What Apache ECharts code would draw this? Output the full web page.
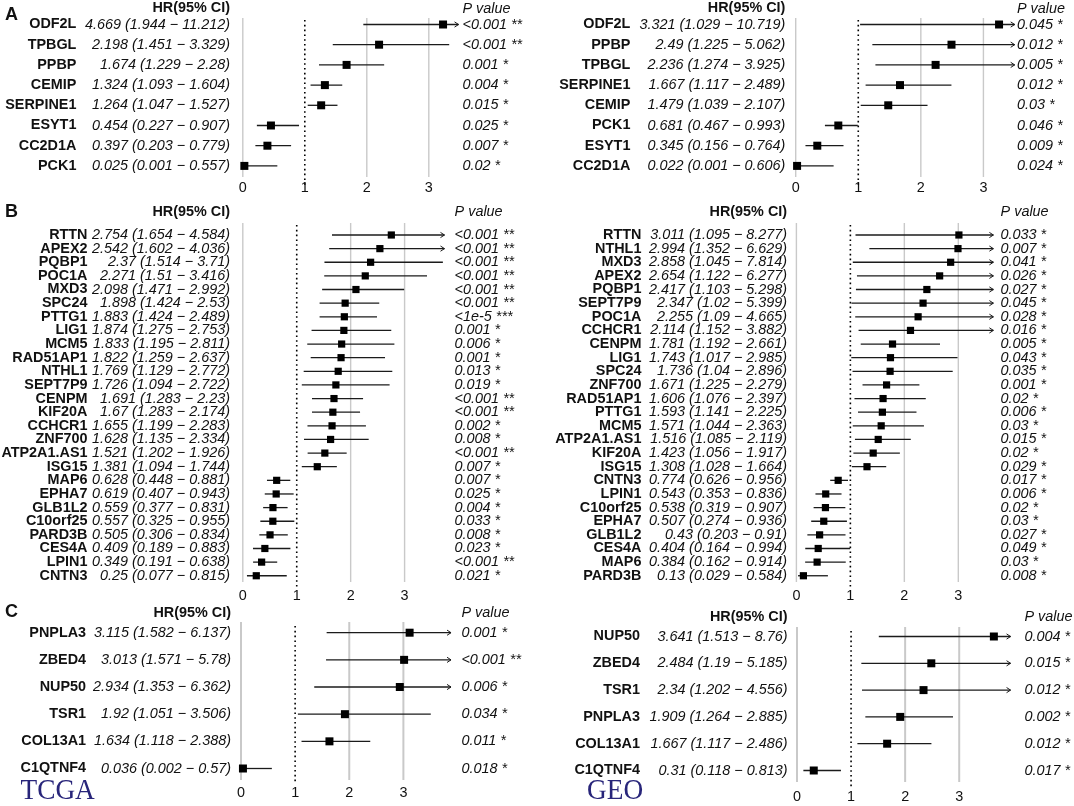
<!DOCTYPE html>
<html>
<head>
<meta charset="utf-8">
<title>Forest plots TCGA / GEO</title>
<script src="https://cdn.jsdelivr.net/npm/echarts@6/dist/echarts.min.js"></script>
<style>
  html, body { margin: 0; padding: 0; background: #fff; }
  #main { width: 1074px; height: 806px; }
</style>
</head>
<body>
<div id="main"></div>
<script>
// A - TCGA
const aTcgaGenes = ['ODF2L', 'TPBGL', 'PPBP', 'CEMIP', 'SERPINE1', 'ESYT1', 'CC2D1A', 'PCK1'];
const aTcgaHr = [4.669, 2.198, 1.674, 1.324, 1.264, 0.454, 0.397, 0.025];
const aTcgaLo = [1.944, 1.451, 1.229, 1.093, 1.047, 0.227, 0.203, 0.001];
const aTcgaHi = [11.212, 3.329, 2.28, 1.604, 1.527, 0.907, 0.779, 0.557];
const aTcgaP = ['<0.001 **', '<0.001 **', '0.001 *', '0.004 *', '0.015 *', '0.025 *', '0.007 *', '0.02 *'];

// A - GEO
const aGeoGenes = ['ODF2L', 'PPBP', 'TPBGL', 'SERPINE1', 'CEMIP', 'PCK1', 'ESYT1', 'CC2D1A'];
const aGeoHr = [3.321, 2.49, 2.236, 1.667, 1.479, 0.681, 0.345, 0.022];
const aGeoLo = [1.029, 1.225, 1.274, 1.117, 1.039, 0.467, 0.156, 0.001];
const aGeoHi = [10.719, 5.062, 3.925, 2.489, 2.107, 0.993, 0.764, 0.606];
const aGeoP = ['0.045 *', '0.012 *', '0.005 *', '0.012 *', '0.03 *', '0.046 *', '0.009 *', '0.024 *'];

// B - TCGA
const bTcgaGenes = ['RTTN', 'APEX2', 'PQBP1', 'POC1A', 'MXD3', 'SPC24', 'PTTG1', 'LIG1', 'MCM5', 'RAD51AP1',
  'NTHL1', 'SEPT7P9', 'CENPM', 'KIF20A', 'CCHCR1', 'ZNF700', 'ATP2A1.AS1', 'ISG15', 'MAP6', 'EPHA7',
  'GLB1L2', 'C10orf25', 'PARD3B', 'CES4A', 'LPIN1', 'CNTN3'];
const bTcgaHr = [2.754, 2.542, 2.37, 2.271, 2.098, 1.898, 1.883, 1.874, 1.833, 1.822,
  1.769, 1.726, 1.691, 1.67, 1.655, 1.628, 1.521, 1.381, 0.628, 0.619,
  0.559, 0.557, 0.505, 0.409, 0.349, 0.25];
const bTcgaLo = [1.654, 1.602, 1.514, 1.51, 1.471, 1.424, 1.424, 1.275, 1.195, 1.259,
  1.129, 1.094, 1.283, 1.283, 1.199, 1.135, 1.202, 1.094, 0.448, 0.407,
  0.377, 0.325, 0.306, 0.189, 0.191, 0.077];
const bTcgaHi = [4.584, 4.036, 3.71, 3.416, 2.992, 2.53, 2.489, 2.753, 2.811, 2.637,
  2.772, 2.722, 2.23, 2.174, 2.283, 2.334, 1.926, 1.744, 0.881, 0.943,
  0.831, 0.955, 0.834, 0.883, 0.638, 0.815];
const bTcgaP = ['<0.001 **', '<0.001 **', '<0.001 **', '<0.001 **', '<0.001 **', '<0.001 **', '<1e-5 ***',
  '0.001 *', '0.006 *', '0.001 *', '0.013 *', '0.019 *', '<0.001 **', '<0.001 **', '0.002 *', '0.008 *',
  '<0.001 **', '0.007 *', '0.007 *', '0.025 *', '0.004 *', '0.033 *', '0.008 *', '0.023 *', '<0.001 **', '0.021 *'];

// B - GEO
const bGeoGenes = ['RTTN', 'NTHL1', 'MXD3', 'APEX2', 'PQBP1', 'SEPT7P9', 'POC1A', 'CCHCR1', 'CENPM', 'LIG1',
  'SPC24', 'ZNF700', 'RAD51AP1', 'PTTG1', 'MCM5', 'ATP2A1.AS1', 'KIF20A', 'ISG15', 'CNTN3', 'LPIN1',
  'C10orf25', 'EPHA7', 'GLB1L2', 'CES4A', 'MAP6', 'PARD3B'];
const bGeoHr = [3.011, 2.994, 2.858, 2.654, 2.417, 2.347, 2.255, 2.114, 1.781, 1.743,
  1.736, 1.671, 1.606, 1.593, 1.571, 1.516, 1.423, 1.308, 0.774, 0.543,
  0.538, 0.507, 0.43, 0.404, 0.384, 0.13];
const bGeoLo = [1.095, 1.352, 1.045, 1.122, 1.103, 1.02, 1.09, 1.152, 1.192, 1.017,
  1.04, 1.225, 1.076, 1.141, 1.044, 1.085, 1.056, 1.028, 0.626, 0.353,
  0.319, 0.274, 0.203, 0.164, 0.162, 0.029];
const bGeoHi = [8.277, 6.629, 7.814, 6.277, 5.298, 5.399, 4.665, 3.882, 2.661, 2.985,
  2.896, 2.279, 2.397, 2.225, 2.363, 2.119, 1.917, 1.664, 0.956, 0.836,
  0.907, 0.936, 0.91, 0.994, 0.914, 0.584];
const bGeoP = ['0.033 *', '0.007 *', '0.041 *', '0.026 *', '0.027 *', '0.045 *', '0.028 *', '0.016 *', '0.005 *',
  '0.043 *', '0.035 *', '0.001 *', '0.02 *', '0.006 *', '0.03 *', '0.015 *', '0.02 *', '0.029 *', '0.017 *',
  '0.006 *', '0.02 *', '0.03 *', '0.027 *', '0.049 *', '0.03 *', '0.008 *'];

// C - TCGA
const cTcgaGenes = ['PNPLA3', 'ZBED4', 'NUP50', 'TSR1', 'COL13A1', 'C1QTNF4'];
const cTcgaHr = [3.115, 3.013, 2.934, 1.92, 1.634, 0.036];
const cTcgaLo = [1.582, 1.571, 1.353, 1.051, 1.118, 0.002];
const cTcgaHi = [6.137, 5.78, 6.362, 3.506, 2.388, 0.57];
const cTcgaP = ['0.001 *', '<0.001 **', '0.006 *', '0.034 *', '0.011 *', '0.018 *'];

// C - GEO
const cGeoGenes = ['NUP50', 'ZBED4', 'TSR1', 'PNPLA3', 'COL13A1', 'C1QTNF4'];
const cGeoHr = [3.641, 2.484, 2.34, 1.909, 1.667, 0.31];
const cGeoLo = [1.513, 1.19, 1.202, 1.264, 1.117, 0.118];
const cGeoHi = [8.76, 5.185, 4.556, 2.885, 2.486, 0.813];
const cGeoP = ['0.004 *', '0.015 *', '0.012 *', '0.002 *', '0.012 *', '0.017 *'];

const axisTicks = [0, 1, 2, 3];
const nullHr = 1;

var FONT = '"Liberation Sans", Arial, Helvetica, sans-serif';
var FS = 14.4;
var INK = '#111';

// layout of the six panels (pixels)
var panels = [
  { genes: aTcgaGenes, hr: aTcgaHr, lo: aTcgaLo, hi: aTcgaHi, p: aTcgaP,
    x0: 242.8, unit: 62, xmax: 3.48, rowTop: 24.5, gap: 20.2, geneRight: 76.4, hrRight: 230, pLeft: 462.5,
    headY: 8.5, labelY: 188.3, lineTop: 18, lineBot: 177, dotTop: 20, dotBot: 185, box: 8, grey: 1.4 },
  { genes: aGeoGenes, hr: aGeoHr, lo: aGeoLo, hi: aGeoHi, p: aGeoP,
    x0: 795.7, unit: 62.57, xmax: 3.5, rowTop: 24.5, gap: 20.2, geneRight: 630.4, hrRight: 785.4, pLeft: 1017,
    headY: 8.5, labelY: 188.3, lineTop: 18, lineBot: 177, dotTop: 20, dotBot: 185, box: 8, grey: 1.4 },
  { genes: bTcgaGenes, hr: bTcgaHr, lo: bTcgaLo, hi: bTcgaHi, p: bTcgaP,
    x0: 242.8, unit: 53.93, xmax: 3.74, rowTop: 235, gap: 13.63, geneRight: 87.5, hrRight: 230, pLeft: 454.6,
    headY: 212.3, labelY: 596, lineTop: 223, lineBot: 582, dotTop: 225, dotBot: 587, box: 7.2, grey: 1.4 },
  { genes: bGeoGenes, hr: bGeoHr, lo: bGeoLo, hi: bGeoHi, p: bGeoP,
    x0: 796.4, unit: 53.97, xmax: 3.65, rowTop: 235, gap: 13.63, geneRight: 641.4, hrRight: 787.1, pLeft: 1000.6,
    headY: 212.3, labelY: 596, lineTop: 223, lineBot: 582, dotTop: 225, dotBot: 587, box: 7.2, grey: 1.4 },
  { genes: cTcgaGenes, hr: cTcgaHr, lo: cTcgaLo, hi: cTcgaHi, p: cTcgaP,
    x0: 241, unit: 54.13, xmax: 3.88, rowTop: 632.7, gap: 27.16, geneRight: 86.1, hrRight: 231, pLeft: 461.4,
    headY: 612.7, labelY: 793, lineTop: 622, lineBot: 780, dotTop: 626, dotBot: 784, box: 8, grey: 2 },
  { genes: cGeoGenes, hr: cGeoHr, lo: cGeoLo, hi: cGeoHi, p: cGeoP,
    x0: 797, unit: 54.07, xmax: 3.95, rowTop: 636.5, gap: 26.8, geneRight: 640, hrRight: 787.5, pLeft: 1024.5,
    headY: 617.3, labelY: 796.7, lineTop: 627, lineBot: 782, dotTop: 631, dotBot: 787, box: 8, grey: 2 }
];

function hrText(pn, j) {
  return pn.hr[j] + ' (' + pn.lo[j] + ' \u2212 ' + pn.hi[j] + ')';
}

function refLine(pn, dotted) {
  return function (params, api) {
    var x = api.coord([api.value(0), 0])[0];
    return {
      type: 'line',
      shape: { x1: x, y1: dotted ? pn.dotTop : pn.lineTop, x2: x, y2: dotted ? pn.dotBot : pn.lineBot },
      style: dotted
        ? { stroke: '#000', lineWidth: 1.6, lineDash: [1.6, 3.2] }
        : { stroke: '#c9c9c9', lineWidth: pn.grey }
    };
  };
}

function ciItem(size) {
  return function (params, api) {
    var j = api.value(1);
    var a = api.coord([api.value(2), j]);
    var b = api.coord([api.value(3), j]);
    var c = api.coord([api.value(0), j]);
    var kids = [
      { type: 'line', shape: { x1: a[0], y1: a[1], x2: b[0], y2: b[1] },
        style: { stroke: '#1b1b1b', lineWidth: 1.3 } },
      { type: 'rect', shape: { x: c[0] - size / 2, y: c[1] - size / 2, width: size, height: size },
        style: { fill: '#000' } }
    ];
    if (api.value(4)) {
      kids.push({ type: 'polyline',
        shape: { points: [[b[0] - 4, b[1] - 2.6], [b[0], b[1]], [b[0] - 4, b[1] + 2.6]] },
        style: { stroke: '#1b1b1b', fill: null, lineWidth: 1 } });
    }
    return { type: 'group', children: kids };
  };
}

var grid = [], xAxis = [], yAxis = [], series = [], graphic = [];

panels.forEach(function (pn, i) {
  var n = pn.genes.length;
  var top = pn.rowTop - pn.gap / 2;
  var height = n * pn.gap;
  var width = pn.xmax * pn.unit;

  grid.push({ left: pn.x0, top: top, width: width, height: height, containLabel: false, outerBoundsMode: 'none' });

  xAxis.push({
    type: 'value', gridIndex: i, min: 0, max: pn.xmax, interval: 1,
    axisLine: { show: false }, axisTick: { show: false }, splitLine: { show: false },
    axisLabel: {
      margin: pn.labelY - top - height - 7, showMaxLabel: false,
      fontFamily: FONT, fontSize: FS, color: INK,
      formatter: function (v) { return axisTicks.indexOf(v) >= 0 ? String(v) : ''; }
    }
  });

  var base = {
    type: 'category', gridIndex: i, data: pn.genes, inverse: true,
    axisLine: { show: false }, axisTick: { show: false }, splitLine: { show: false }
  };
  yAxis.push(Object.assign({}, base, {
    position: 'left', offset: pn.x0 - pn.geneRight,
    axisLabel: { interval: 0, margin: 0, fontFamily: FONT, fontSize: FS, fontWeight: 'bold', color: INK }
  }));
  yAxis.push(Object.assign({}, base, {
    position: 'left', offset: pn.x0 - pn.hrRight,
    axisLabel: { interval: 0, margin: 0, fontFamily: FONT, fontSize: FS, fontStyle: 'italic', color: INK,
      formatter: function (v, j) { return hrText(pn, j); } }
  }));
  yAxis.push(Object.assign({}, base, {
    position: 'right', offset: pn.pLeft - (pn.x0 + width),
    axisLabel: { interval: 0, margin: 0, fontFamily: FONT, fontSize: FS, fontStyle: 'italic', color: INK,
      align: 'left', formatter: function (v, j) { return pn.p[j]; } }
  }));

  var yi = i * 3;
  series.push({
    type: 'custom', xAxisIndex: i, yAxisIndex: yi, z: 1, silent: true,
    renderItem: refLine(pn, false), encode: { x: 0, y: 1 },
    data: axisTicks.filter(function (t) { return t !== nullHr; }).map(function (t) { return [t, 0]; })
  });
  series.push({
    type: 'custom', xAxisIndex: i, yAxisIndex: yi, z: 1, silent: true,
    renderItem: refLine(pn, true), encode: { x: 0, y: 1 },
    data: [[nullHr, 0]]
  });
  series.push({
    type: 'custom', xAxisIndex: i, yAxisIndex: yi, z: 2, silent: true,
    renderItem: ciItem(pn.box), encode: { x: 0, y: 1 },
    data: pn.genes.map(function (g, j) {
      return [Math.min(pn.hr[j], pn.xmax - 0.25), j, pn.lo[j], Math.min(pn.hi[j], pn.xmax), pn.hi[j] > pn.xmax ? 1 : 0];
    })
  });

  graphic.push({ type: 'text', x: pn.hrRight, y: pn.headY, silent: true,
    style: { text: 'HR(95% CI)', fontFamily: FONT, fontSize: FS, fontWeight: 'bold', fill: INK,
      align: 'right', verticalAlign: 'middle' } });
  graphic.push({ type: 'text', x: pn.pLeft, y: pn.headY, silent: true,
    style: { text: 'P value', fontFamily: FONT, fontSize: FS, fontStyle: 'italic', fill: INK,
      align: 'left', verticalAlign: 'middle' } });
});

// panel letters and cohort names
[['A', 15.5], ['B', 212.3], ['C', 611.7]].forEach(function (l) {
  graphic.push({ type: 'text', x: 5, y: l[1], silent: true,
    style: { text: l[0], fontFamily: FONT, fontSize: 18, fontWeight: 'bold', fill: INK,
      align: 'left', verticalAlign: 'middle' } });
});
[['TCGA', 20.5, 791.5], ['GEO', 587, 791]].forEach(function (t) {
  graphic.push({ type: 'text', x: t[1], y: t[2], scaleX: 0.91, silent: true,
    style: { text: t[0], fontFamily: '"Liberation Serif", "Times New Roman", serif', fontSize: 30,
      fill: '#28257a', align: 'left', verticalAlign: 'middle' } });
});

var chart = echarts.init(document.getElementById('main'), null, { renderer: 'canvas' });
chart.setOption({
  backgroundColor: '#fff',
  animation: false,
  grid: grid,
  xAxis: xAxis,
  yAxis: yAxis,
  series: series,
  graphic: graphic
});
window.addEventListener('resize', chart.resize);
</script>
</body>
</html>
